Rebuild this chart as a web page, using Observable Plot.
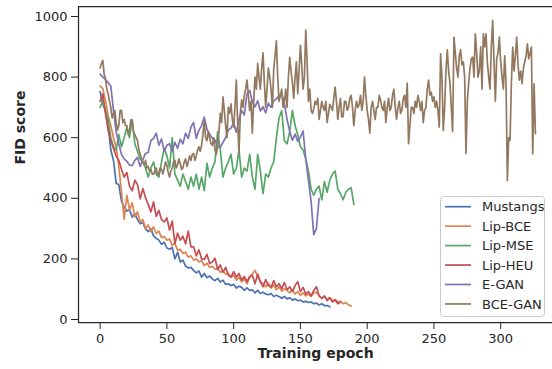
<!DOCTYPE html>
<html><head><meta charset="utf-8">
<script src="https://cdn.jsdelivr.net/npm/d3@7"></script>
<script src="https://cdn.jsdelivr.net/npm/@observablehq/plot@0.6"></script>
<style>body{margin:0;background:#fff;} svg{display:block}</style>
</head><body><div id="chart"></div>
<script>
const seriesNames = ["Mustangs","Lip-BCE","Lip-MSE","Lip-HEU","E-GAN","BCE-GAN"];
const seriesColors = ["#4c72b0","#dd8452","#55a868","#c44e52","#8172b3","#937860"];
// epochs between consecutive stored values, per series
const seriesSteps = [2, 2, 2, 2, 2, 1];
const xTicks = [0,50,100,150,200,250,300];
const yTicks = [0,200,400,600,800,1000];

const mustangs = [752,712,688,640,560,525,450,445,390,372,358,362,338,350,330,316,320,298,290,300,276,268,262,248,255,236,232,238,200,222,190,196,176,170,172,162,154,160,140,152,138,144,134,128,136,124,130,116,118,112,116,104,110,106,96,104,96,98,88,96,86,90,84,82,86,76,80,76,70,76,68,72,64,68,62,64,58,60,56,58,52,54,48,52,46,46,42];
const lipBCE = [770,762,722,672,640,600,568,505,420,330,410,362,385,338,356,322,330,300,312,290,306,284,292,270,274,262,266,244,252,228,232,218,222,206,210,196,200,190,194,178,186,172,176,166,168,156,160,150,152,140,146,130,140,124,134,118,138,150,162,142,126,118,108,120,104,114,98,108,94,102,96,88,98,84,92,80,88,78,84,76,88,90,78,70,76,66,72,62,66,58,60,52,56,48,45];
const lipMSE = [700,720,690,660,600,570,560,610,570,600,635,600,660,580,555,530,520,500,470,500,520,480,470,520,565,540,500,600,480,460,440,480,455,430,470,440,480,430,470,425,515,470,500,520,620,560,470,500,520,545,480,500,560,470,500,490,545,470,430,545,490,415,480,470,500,520,600,665,690,590,580,620,690,640,610,570,560,530,490,430,410,430,440,395,455,420,460,480,490,430,415,395,420,430,435,380];
const lipHEU = [720,745,680,625,590,565,540,525,495,470,485,440,425,460,445,398,432,402,380,355,388,340,360,330,322,335,295,325,250,285,262,275,250,292,240,240,210,230,200,198,215,185,190,202,165,180,156,172,146,140,158,140,152,130,142,125,142,146,118,150,124,108,132,112,106,128,108,118,102,122,98,108,92,112,125,92,106,84,92,78,96,108,78,70,78,62,72,58,64,52,58];
const eGAN = [810,800,792,782,770,690,620,580,545,530,522,510,508,525,535,505,528,548,552,590,598,615,575,596,555,575,580,555,585,565,595,580,615,598,635,650,598,625,640,668,628,612,598,592,572,568,585,600,625,632,648,618,662,690,675,745,756,718,702,722,688,702,682,714,700,722,728,738,745,712,660,620,592,612,588,602,622,530,460,390,280,300,400];
const bceGAN = [830,845,855,810,795,760,745,720,700,665,680,690,650,625,640,690,690,650,660,640,
  640,610,625,660,655,620,610,600,590,560,545,530,520,510,525,500,505,490,495,480,
  480,490,500,475,485,500,495,480,500,520,510,485,470,490,500,520,525,500,510,530,
  515,495,500,520,530,505,520,540,525,545,548,525,540,560,570,555,575,610,655,600,
  590,620,600,580,575,600,560,545,570,620,680,650,735,690,640,600,700,680,712,660,
  635,700,790,650,550,680,725,700,740,760,790,740,690,720,615,720,800,760,845,800,
  760,830,880,780,700,760,830,800,760,700,825,870,920,800,720,740,760,700,720,760,
  700,800,865,820,780,730,800,850,745,820,905,840,760,800,955,850,720,760,690,680,
  695,720,710,730,660,690,720,700,690,720,650,680,710,700,690,730,767,720,660,700,
  730,668,670,720,720,690,700,730,740,700,640,690,720,700,710,740,690,720,800,740,
  690,660,615,700,720,690,660,700,700,740,725,700,690,720,650,700,730,690,700,740,
  760,700,660,700,720,680,690,730,740,700,780,580,640,700,700,680,720,700,740,720,
  690,720,650,690,700,760,790,740,750,720,735,700,720,690,635,877,800,624,700,820,
  890,820,780,700,620,932,880,830,800,870,890,840,850,800,548,720,780,830,860,866,
  800,943,880,800,820,900,760,943,900,943,850,800,760,900,987,850,720,860,880,932,
  850,800,760,870,780,459,600,591,780,899,820,870,932,840,790,820,778,830,850,870,
  910,860,880,899,547,778,613];

const allSeries = [mustangs, lipBCE, lipMSE, lipHEU, eGAN, bceGAN];
const rows = allSeries.flatMap((vals, k) => vals.map((v, i) => ({series: seriesNames[k], epoch: i * seriesSteps[k], fid: v})));

const xDomain = [-16.2, 338.8];
const yDomain = [-9.9, 1033];

const svg = Plot.plot({
  width: 552, height: 369,
  marginLeft: 78, marginRight: 0, marginTop: 6, marginBottom: 47,
  style: {fontFamily: "DejaVu Sans", fontSize: "13px", color: "#262626", background: "white"},
  x: {domain: xDomain, ticks: xTicks, tickSize: 7, tickPadding: 4, tickFormat: d => String(d), label: null},
  y: {domain: yDomain, ticks: yTicks, tickSize: 7, tickPadding: 4, tickFormat: d => String(d), label: null},
  color: {domain: seriesNames, range: seriesColors},
  marks: [
    Plot.line(rows, {x: "epoch", y: "fid", z: "series", stroke: "series", strokeWidth: 1.7}),
    Plot.ruleX([xDomain[0]], {stroke: "#262626", strokeWidth: 1.25}),
    Plot.ruleY([yDomain[0], yDomain[1]], {stroke: "#262626", strokeWidth: 1.25}),
    Plot.text(["Training epoch"], {text: d => d, frameAnchor: "bottom", dy: 35, fontWeight: "bold", fontSize: 14, fill: "#262626"}),
    Plot.text(["FID score"], {text: d => d, frameAnchor: "left", dx: -58, rotate: -90, fontWeight: "bold", fontSize: 14, fill: "#262626"})
  ]
});

const lg = d3.select(svg).append("g").attr("font-family", "DejaVu Sans").attr("font-size", 13).attr("text-anchor", "start");
lg.append("rect").attr("x", 440.5).attr("y", 196.5).attr("width", 104).attr("height", 120).attr("rx", 3)
  .attr("fill", "white").attr("fill-opacity", 0.8).attr("stroke", "#cccccc");
seriesNames.forEach((n, i) => {
  const cy = 206.7 + i * 19.45;
  lg.append("line").attr("x1", 445).attr("x2", 471).attr("y1", cy).attr("y2", cy)
    .attr("stroke", seriesColors[i]).attr("stroke-width", 1.7);
  lg.append("text").attr("x", 482).attr("y", cy).attr("dy", "0.35em").attr("fill", "#262626").text(n);
});

document.getElementById("chart").appendChild(svg);
</script>
</body></html>
